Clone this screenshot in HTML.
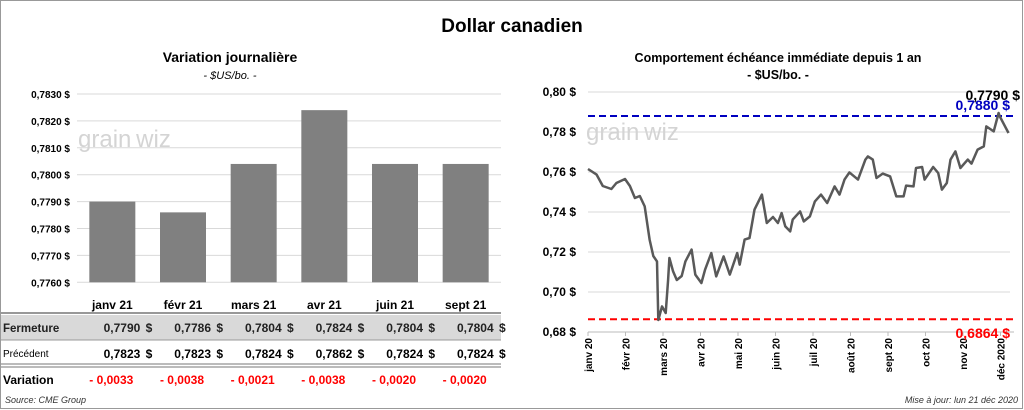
<!DOCTYPE html>
<html><head><meta charset="utf-8">
<style>
body{margin:0;background:#fff;font-family:"Liberation Sans",sans-serif;}
#wrap{position:relative;width:1024px;height:410px;overflow:hidden;}
svg text{font-family:"Liberation Sans",sans-serif;}
</style></head>
<body>
<div id="wrap">
<svg id="svg" width="1024" height="410">
<rect x="0.5" y="0.5" width="1022" height="408" fill="#fff" stroke="#999"/>
<text x="512" y="32" text-anchor="middle" font-size="19" font-weight="bold">Dollar canadien</text>
<text x="230" y="62" text-anchor="middle" font-size="14" font-weight="bold">Variation  journalière</text>
<text x="230" y="79" text-anchor="middle" font-size="11" font-style="italic">- $US/bo. -</text>
<text x="778" y="62" text-anchor="middle" font-size="12.5" font-weight="bold">Comportement échéance immédiate depuis 1 an</text>
<text x="778" y="79" text-anchor="middle" font-size="12.5" font-weight="bold">- $US/bo. -</text>
<g id="left"></g>
<g id="right"></g>
<g id="table"></g>
<text x="5" y="403" font-size="9" font-style="italic" fill="#333">Source: CME Group</text>
<text x="1018" y="403" text-anchor="end" font-size="9" font-style="italic" fill="#333">Mise à jour: lun 21 déc 2020</text>
</svg>
</div>
<script>
const barCategories=["janv 21","févr 21","mars 21","avr 21","juin 21","sept 21"];
const closeValues=[0.7790,0.7786,0.7804,0.7824,0.7804,0.7804];
const prevValues=[0.7823,0.7823,0.7824,0.7862,0.7824,0.7824];
const variationValues=[-0.0033,-0.0038,-0.0021,-0.0038,-0.0020,-0.0020];
const barTicks=[0.7760,0.7770,0.7780,0.7790,0.7800,0.7810,0.7820,0.7830];
const lineDays=[0,7,12,19,23,30,34,38,42,46,50,53,56,57,60,63,65,66,69,72,76,79,84,87,92,95,100,104,110,115,121,123,127,131,135,141,145,150,154,157,160,164,166,172,175,180,184,189,194,200,204,208,212,219,225,227,231,234,239,245,250,256,258,264,266,271,273,280,284,287,291,294,298,302,308,311,316,321,323,329,333,334,341];
const lineValues=[.7615,.7587,.753,.7515,.7545,.7565,.753,.747,.748,.7428,.7262,.718,.7153,.686,.6928,.6895,.706,.717,.7103,.706,.708,.7153,.7212,.7087,.7045,.7112,.7195,.7078,.7178,.7087,.7195,.7137,.7262,.727,.7412,.7487,.7345,.7375,.7345,.7395,.7328,.7303,.7362,.7403,.7353,.7378,.7453,.7487,.7445,.7528,.7487,.7562,.7598,.7562,.7662,.7678,.7662,.757,.7592,.7578,.7478,.7478,.7532,.7528,.762,.7625,.7562,.7625,.7595,.7512,.7545,.7662,.7703,.762,.7662,.7642,.7712,.7728,.7828,.7803,.7895,.7878,.7795];
const lineTicks=[0.68,0.70,0.72,0.74,0.76,0.78,0.80];
const monthLabels=["janv 20","févr 20","mars 20","avr 20","mai 20","juin 20","juil 20","août 20","sept 20","oct 20","nov 20","déc 2020"];
const highVal=0.7880, lowVal=0.6864, lastVal=0.7790;

const NS="http://www.w3.org/2000/svg";
function mk(parent,tag,attrs,txt){const e=document.createElementNS(NS,tag);for(const k in attrs)e.setAttribute(k,attrs[k]);if(txt!==undefined)e.textContent=txt;parent.appendChild(e);return e;}
const fmt=(v,d)=>v.toFixed(d).replace('.',',');

// Left bar chart
const L=document.getElementById('left');
const lx0=77,lx1=501,ly0=94,lpx=26.9;
const ly=v=>ly0+(0.7830-v)*1000*lpx;
const bw=(lx1-lx0)/barCategories.length;
barTicks.forEach(t=>{
 const g=mk(L,'line',{x1:lx0,x2:lx1,y1:ly(t),y2:ly(t),stroke:'#d9d9d9'});
 
 
 const tx=mk(L,'text',{x:70,y:ly(t)+4,'text-anchor':'end','font-size':'10','font-weight':'bold'},fmt(t,4)+' $');
 
 
});
const wm1=mk(L,'text',{x:78,y:147,'font-size':'24',fill:'#d4d4d4'},'grain\u2009wiz');


closeValues.forEach((v,i)=>{
 const cx=lx0+bw*(i+0.5);
 const r=mk(L,'rect',{x:cx-23,y:ly(v),width:46,height:ly(0.7760)-ly(v),fill:'#808080'});
 
 
});

// Table
const T=document.getElementById('table');
const bgr=mk(T,'rect',{x:1,y:315,width:500,height:25,fill:'#d9d9d9'});


[[1,313,'#777',1.5],[1,340,'#999',1],[1,364,'#777',1],[1,367,'#777',1]].forEach(a=>{
 const l=mk(T,'line',{x1:a[0],x2:501,y1:a[1],y2:a[1],stroke:a[2],'stroke-width':a[3]});
 
 
});
const h1=mk(T,'text',{x:3,y:332,'font-size':'11.5','font-weight':'bold',fill:'#222'},'Fermeture');


const h2=mk(T,'text',{x:3,y:357,'font-size':'10'},'Précédent');


const h3=mk(T,'text',{x:3,y:384,'font-size':'12','font-weight':'bold'},'Variation');


barCategories.forEach((c,i)=>{
 const cx=lx0+bw*(i+0.5);
 const a=mk(T,'text',{x:cx,y:309,'text-anchor':'middle','font-size':'12','font-weight':'bold'},c);
 
 
 const b=mk(T,'text',{x:cx+28,y:332,'text-anchor':'end','font-size':'12','font-weight':'bold',fill:'#222'},fmt(closeValues[i],4));
 
 
 const b2=mk(T,'text',{x:cx+40,y:332,'text-anchor':'end','font-size':'12','font-weight':'bold',fill:'#222'},'$');
 
 
 const d=mk(T,'text',{x:cx+28,y:358,'text-anchor':'end','font-size':'12','font-weight':'bold'},fmt(prevValues[i],4));
 
 
 const d2=mk(T,'text',{x:cx+40,y:358,'text-anchor':'end','font-size':'12','font-weight':'bold'},'$');
 
 
 const e=mk(T,'text',{x:cx-1,y:384,'text-anchor':'middle','font-size':'12','font-weight':'bold',fill:'#ff0000'},'- '+fmt(Math.abs(variationValues[i]),4));
 
 
});

// Right line chart
const R=document.getElementById('right');
const rx0=588,rx1=1010,ry0=92,rpx=2000,dayPx=1.233;
const ry=v=>ry0+(0.80-v)*rpx;
const rxd=d=>rx0+d*dayPx;
lineTicks.forEach(t=>{
 const g=mk(R,'line',{x1:rx0,x2:rx1,y1:ry(t),y2:ry(t),stroke:'#d9d9d9'});
 
 
 const tx=mk(R,'text',{x:576,y:ry(t)+4,'text-anchor':'end','font-size':'12','font-weight':'bold'},fmt(t,2)+' $');
 
 
});
const wm2=mk(R,'text',{x:586,y:140,'font-size':'24',fill:'#d4d4d4'},'grain\u2009wiz');


const ax=mk(R,'line',{x1:rx0,x2:rx1+4,y1:ry(0.68),y2:ry(0.68),stroke:'#bbb'});


monthLabels.forEach((m,i)=>{
 const x=rx0+i*37.5;
 const tk=mk(R,'line',{x1:x,x2:x,y1:ry(0.68),y2:ry(0.68)+4,stroke:'#bbb'});
 
 
 const t=mk(R,'text',{x:0,y:0,'text-anchor':'end','font-size':'10','font-weight':'bold',transform:`translate(${x+4},${ry(0.68)+6}) rotate(-90)`},m);
 
 
});
const hl=mk(R,'line',{x1:rx0,x2:rx1+3,y1:ry(highVal),y2:ry(highVal),stroke:'#0000c0','stroke-width':2,'stroke-dasharray':'7,4'});


const ll=mk(R,'line',{x1:rx0,x2:rx1+3,y1:ry(lowVal),y2:ry(lowVal),stroke:'#ff0000','stroke-width':2,'stroke-dasharray':'7,4'});


const pts=lineDays.map((d,i)=>rxd(d).toFixed(1)+','+ry(lineValues[i]).toFixed(1)).join(' ');
const pl=mk(R,'polyline',{points:pts,fill:'none',stroke:'#595959','stroke-width':2.5,'stroke-linejoin':'round'});


const lt=mk(R,'text',{x:1020,y:100,'text-anchor':'end','font-size':'14','font-weight':'bold'},fmt(lastVal,4)+' $');


const ht=mk(R,'text',{x:1010,y:110,'text-anchor':'end','font-size':'14','font-weight':'bold',fill:'#0000c0'},fmt(highVal,4)+' $');


const lo=mk(R,'text',{x:1010,y:338,'text-anchor':'end','font-size':'14','font-weight':'bold',fill:'#ff0000'},fmt(lowVal,4)+' $');


</script>
</body></html>
